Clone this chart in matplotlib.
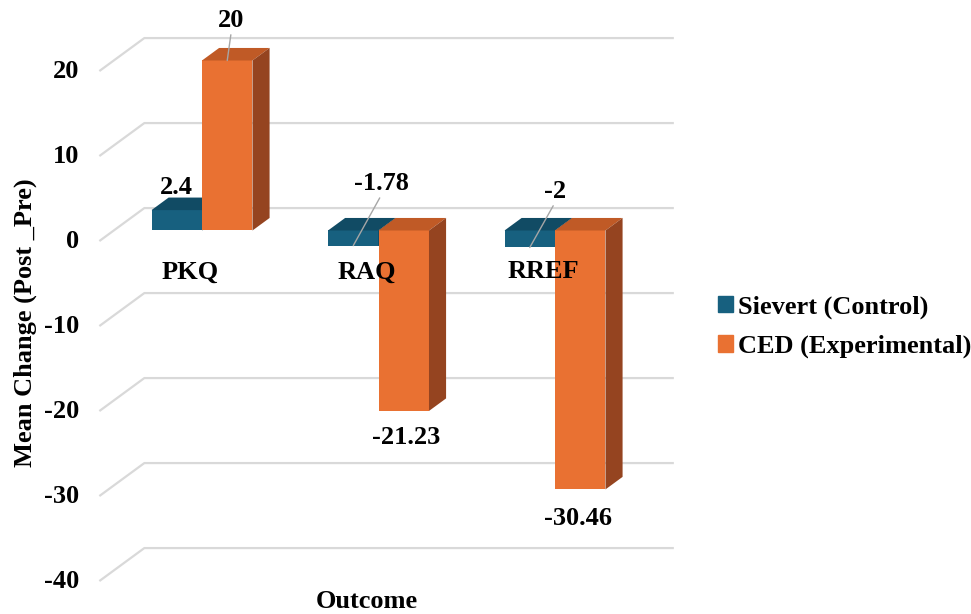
import matplotlib
matplotlib.use("Agg")
from matplotlib import pyplot as plt
from matplotlib.patches import Polygon, Patch

categories = ["PKQ", "RAQ", "RREF"]
series_names = ["Sievert (Control)", "CED (Experimental)"]
sievert = [2.4, -1.78, -2]
ced = [20, -21.23, -30.46]
y_ticks = [20, 10, 0, -10, -20, -30, -40]

# front, top and side face colours of each series
BLUE = ("#17607f", "#114b64", "#0e3c50")
ORANGE = ("#e97132", "#c05a26", "#954420")

# pixel scale of the plot: one category step / one value unit
X_PX, Y_PX = 176.5, 8.5
ORIGIN_PX = (202, 230.5)

# depth direction (data units per unit of depth) and depths of the planes,
# measured from the bars' front faces
DX, DY = 45 / X_PX, 33 / Y_PX
WALL, BAR_BACK, FLOOR_FRONT = 0.68, 0.38, -0.32
BAR_W = 0.286

# value label placement (pixels from the bar end) and leader lines
sievert_shift = [(0, 23), (28, 62), (25, 56)]
ced_shift = [(4, 40), (2, -27), (-2, -29)]
sievert_leader = [False, True, True]
ced_leader = [True, False, False]

plt.rcParams["font.family"] = ["Liberation Serif", "DejaVu Serif"]
plt.rcParams["font.weight"] = "bold"
plt.rcParams["font.size"] = 19

fig = plt.figure(figsize=(9.71, 6.14), dpi=100)
ax = fig.add_axes([0, 0, 1, 1])
ax.set_xlim(-ORIGIN_PX[0] / X_PX, (971 - ORIGIN_PX[0]) / X_PX)
ax.set_ylim((ORIGIN_PX[1] - 614) / Y_PX, ORIGIN_PX[1] / Y_PX)
ax.axis("off")

# back wall grid with the receding floor edge on the left
x0, x1 = -0.5, len(categories) - 0.5
for v in y_ticks:
    xs = [x0 + FLOOR_FRONT * DX, x0 + WALL * DX, x1 + WALL * DX]
    ys = [v + FLOOR_FRONT * DY, v + WALL * DY, v + WALL * DY]
    ax.plot(xs, ys, color="#d9d9d9", lw=1.6, zorder=1, solid_capstyle="butt")
    ax.annotate(f"{v}", (xs[0], ys[0]), xytext=(-20, 0), textcoords="offset pixels",
                ha="right", va="center")


def draw_box(x, v, colors, z):
    """Front face from bar(), plus top and right side faces."""
    ax.bar(x, v, BAR_W, color=colors[0], zorder=z)
    xl, xr = x - BAR_W / 2, x + BAR_W / 2
    lo, hi = min(0, v), max(0, v)
    bx, by = BAR_BACK * DX, BAR_BACK * DY
    top = [(xl, hi), (xr, hi), (xr + bx, hi + by), (xl + bx, hi + by)]
    side = [(xr, lo), (xr, hi), (xr + bx, hi + by), (xr + bx, lo + by)]
    ax.add_patch(Polygon(top, closed=True, color=colors[1], zorder=z, lw=0))
    ax.add_patch(Polygon(side, closed=True, color=colors[2], zorder=z, lw=0))


def value_label(x, v, shift, leader):
    kw = {}
    if leader:
        kw["arrowprops"] = dict(arrowstyle="-", color="#a6a6a6", lw=1,
                                shrinkA=0, shrinkB=0, relpos=(0.5, 0))
    ax.annotate(f"{v:g}", (x, v), xytext=shift, textcoords="offset pixels",
                ha="center", va="center", zorder=10, **kw)


for i, cat in enumerate(categories):
    xb, xo = i - BAR_W / 2, i + BAR_W / 2
    draw_box(xb, sievert[i], BLUE, 3 + 2 * i)
    draw_box(xo, ced[i], ORANGE, 4 + 2 * i)
    value_label(xb, sievert[i], sievert_shift[i], sievert_leader[i])
    value_label(xo, ced[i], ced_shift[i], ced_leader[i])
    ax.annotate(cat, (i, 0), xytext=(-12, -41.5), textcoords="offset pixels",
                ha="center", va="center", zorder=10)

fig.text(25 / 971, 1 - 323 / 614, "Mean Change (Post _Pre)", rotation=90,
         ha="center", va="center")
fig.text(367 / 971, 1 - 601 / 614, "Outcome", ha="center", va="center")

handles = [Patch(color=BLUE[0]), Patch(color=ORANGE[0])]
fig.legend(handles, series_names, loc="center left", frameon=False,
           bbox_to_anchor=(718 / 971, 1 - 327 / 614), borderpad=0, borderaxespad=0,
           handlelength=0.57, handleheight=0.57, handletextpad=0.2,
           labelspacing=0.6)

fig.savefig("out.png", dpi=100)
